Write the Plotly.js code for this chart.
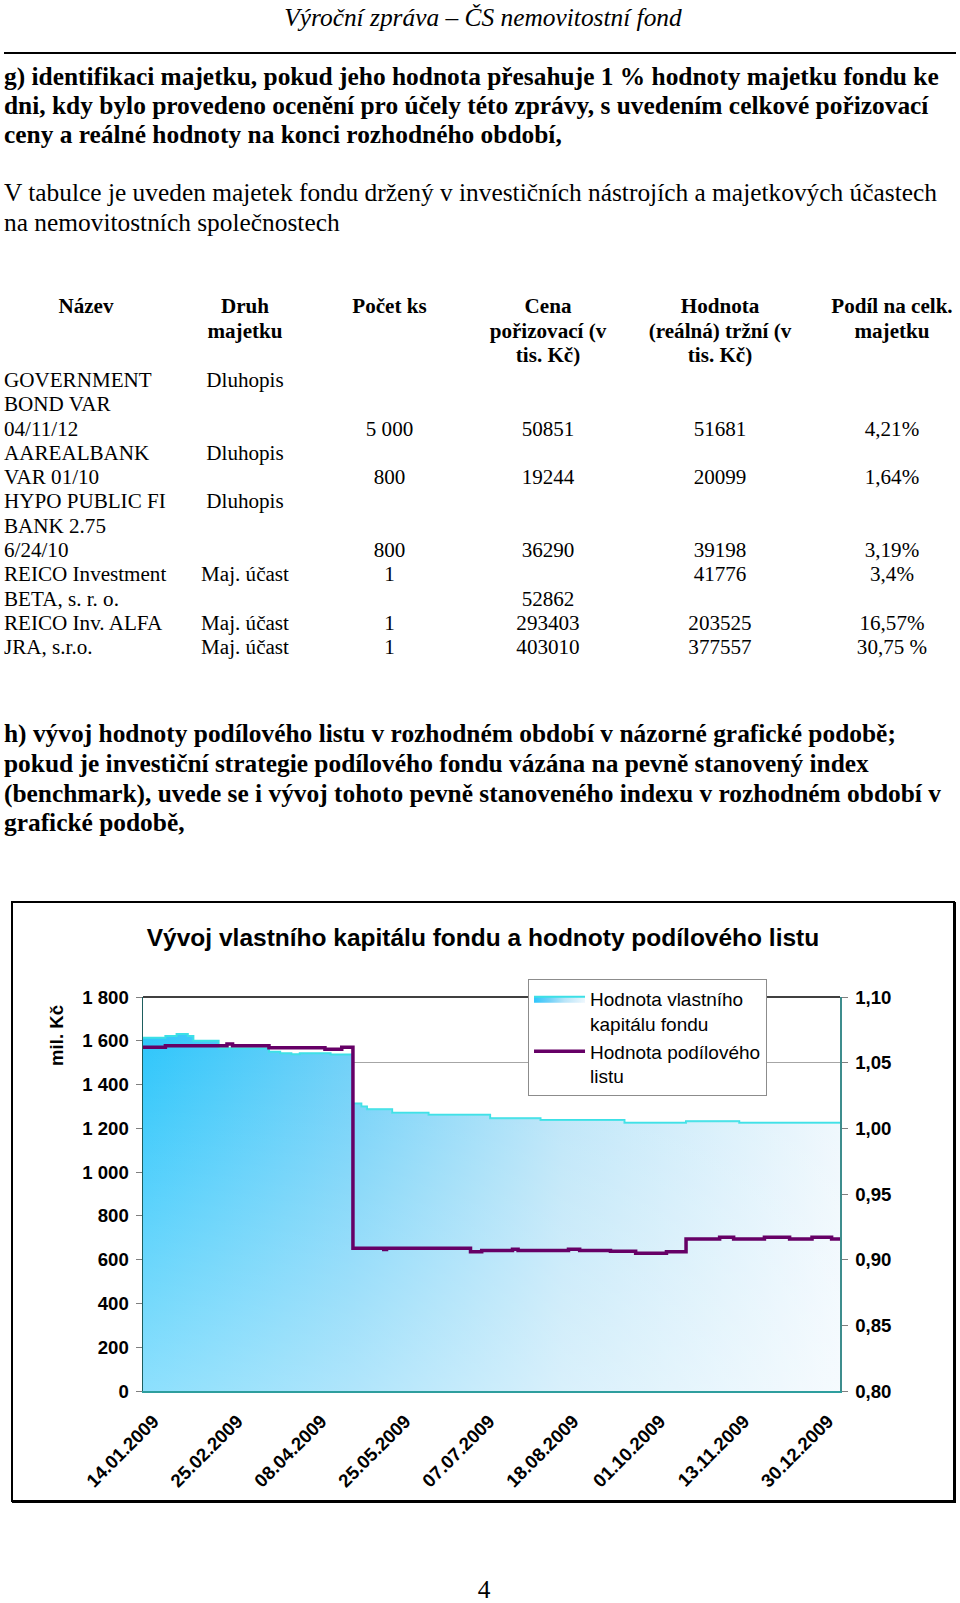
<!DOCTYPE html>
<html lang="cs">
<head>
<meta charset="utf-8">
<title>Výroční zpráva – ČS nemovitostní fond</title>
<script src="https://cdn.plot.ly/plotly-3.0.1.min.js"></script>
<style>
  html, body { margin: 0; padding: 0; background: #fff; }
  body {
    width: 960px; height: 1603px; position: relative; overflow: hidden;
    font-family: 'Liberation Serif', 'Times New Roman', serif; color: #000;
  }
  .ln { position: absolute; white-space: nowrap; line-height: 1; }
  .c { transform: translateX(-50%); }
  .txt { font-size: 25.4px; }
  .tbl { font-size: 21.1px; }
  .b { font-weight: bold; }
  .i { font-style: italic; }
  #rule { position: absolute; left: 4px; top: 52px; width: 952px; height: 1.5px; background: #000; }
  #chartBox {
    position: absolute; left: 11px; top: 901px; width: 940px; height: 597px;
    border: 2px solid #000; box-shadow: 1px 1px 0 #000;
  }
  #chart { width: 940px; height: 597px; }
  #pageNo { line-height: 0.8; }
</style>
</head>
<body>

<div class="ln txt i c" style="left:483px; top:4.5px">Výroční zpráva – ČS nemovitostní fond</div>
<div id="rule"></div>

<div class="ln txt b" style="left:4px; top:64px">g) identifikaci majetku, pokud jeho hodnota přesahuje 1 % hodnoty majetku fondu ke</div>
<div class="ln txt b" style="left:4px; top:93.2px">dni, kdy bylo provedeno ocenění pro účely této zprávy, s uvedením celkové pořizovací</div>
<div class="ln txt b" style="left:4px; top:122.4px">ceny a reálné hodnoty na konci rozhodného období,</div>

<div class="ln txt" style="left:4px; top:179.6px">V tabulce je uveden majetek fondu držený v investičních nástrojích a majetkových účastech</div>
<div class="ln txt" style="left:4px; top:209.7px">na nemovitostních společnostech</div>

<div id="table"></div>

<div class="ln txt b" style="left:4px; top:721.2px">h) vývoj hodnoty podílového listu v rozhodném období v názorné grafické podobě;</div>
<div class="ln txt b" style="left:4px; top:751.2px">pokud je investiční strategie podílového fondu vázána na pevně stanovený index</div>
<div class="ln txt b" style="left:4px; top:780.7px">(benchmark), uvede se i vývoj tohoto pevně stanoveného indexu v rozhodném období v</div>
<div class="ln txt b" style="left:4px; top:810.2px">grafické podobě,</div>

<div id="chartBox"><div id="chart"></div></div>

<div id="pageNo" class="ln txt c" style="left:484px; top:1578.5px">4</div>

<script>
// ---- table (one entry per printed line, empty string = blank cell) ----
const tableHead = [
  ['Název', 'Druh', 'Počet ks', 'Cena', 'Hodnota', 'Podíl na celk.'],
  ['', 'majetku', '', 'pořizovací (v', '(reálná) tržní (v', 'majetku'],
  ['', '', '', 'tis. Kč)', 'tis. Kč)', '']
];
const tableRows = [
  ['GOVERNMENT', 'Dluhopis', '', '', '', ''],
  ['BOND VAR', '', '', '', '', ''],
  ['04/11/12', '', '5 000', '50851', '51681', '4,21%'],
  ['AAREALBANK', 'Dluhopis', '', '', '', ''],
  ['VAR 01/10', '', '800', '19244', '20099', '1,64%'],
  ['HYPO PUBLIC FI', 'Dluhopis', '', '', '', ''],
  ['BANK 2.75', '', '', '', '', ''],
  ['6/24/10', '', '800', '36290', '39198', '3,19%'],
  ['REICO Investment', 'Maj. účast', '1', '', '41776', '3,4%'],
  ['BETA, s. r. o.', '', '', '52862', '', ''],
  ['REICO Inv. ALFA', 'Maj. účast', '1', '293403', '203525', '16,57%'],
  ['JRA, s.r.o.', 'Maj. účast', '1', '403010', '377557', '30,75 %']
];

// column centres (first column of the body is left aligned)
const colCenter = [86, 245, 389.5, 548, 720, 892];

function buildTable(){
  const host = document.getElementById('table');
  const put = (text, col, top, bold, leftAlign) => {
    if ( !text ) return;
    const d = document.createElement('div');
    d.className = 'ln tbl' + (bold ? ' b' : '') + (leftAlign ? '' : ' c');
    d.style.left = (leftAlign ? 4 : colCenter[col]) + 'px';
    d.style.top = top + 'px';
    d.textContent = text;
    host.appendChild(d);
  };
  tableHead.forEach((row, r) => {
    row.forEach((t, c) => put(t, c, 296.3 + r * 24.5, true, false));
  });
  tableRows.forEach((row, r) => {
    row.forEach((t, c) => put(t, c, 369.9 + r * 24.3, false, c === 0));
  });
}
buildTable();

// ---- chart data (business days of 2009) ----
const fundDates = [
  '2009-01-02', '2009-01-14', '2009-01-20', '2009-01-26', '2009-01-28', '2009-02-10',
  '2009-03-06', '2009-03-12', '2009-03-18', '2009-03-23', '2009-04-07', '2009-04-20',
  '2009-04-23', '2009-04-27', '2009-05-12', '2009-05-29', '2009-06-30', '2009-07-27',
  '2009-09-07', '2009-10-08', '2009-11-05', '2009-12-30'
];
const fundEquity = [ // mil. Kč
  1614, 1622, 1631, 1622, 1600, 1566,
  1550, 1543, 1538, 1543, 1537, 1314,
  1300, 1287, 1271, 1262, 1246, 1238,
  1226, 1232, 1226, 1226
];

const unitDates = [
  '2009-01-02', '2009-01-14', '2009-02-13', '2009-02-17', '2009-03-06', '2009-04-03',
  '2009-04-14', '2009-04-20', '2009-05-06', '2009-05-07', '2009-06-19', '2009-06-25',
  '2009-07-13', '2009-07-15', '2009-08-10', '2009-08-14', '2009-08-31', '2009-09-11',
  '2009-09-29', '2009-10-08', '2009-10-26', '2009-11-03', '2009-11-19', '2009-12-02',
  '2009-12-14', '2009-12-23', '2009-12-30'
];
const unitValue = [
  1.0617, 1.0629, 1.0642, 1.0629, 1.0614, 1.0602,
  1.0617, 0.9087, 0.9078, 0.9087, 0.9061, 0.9069,
  0.9079, 0.9069, 0.9079, 0.9069, 0.9064, 0.9049,
  0.9061, 0.9157, 0.9170, 0.9157, 0.9170, 0.9157,
  0.9170, 0.9157, 0.9157
];

const labelDates = [
  '2009-01-14', '2009-02-25', '2009-04-08', '2009-05-25', '2009-07-07',
  '2009-08-18', '2009-10-01', '2009-11-13', '2009-12-30'
];
// days without a valuation (Czech public holidays)
const holidays = [
  '2009-04-13', '2009-05-01', '2009-05-08', '2009-07-06', '2009-09-28',
  '2009-10-28', '2009-11-17', '2009-12-24', '2009-12-25'
];

const SANS = 'Liberation Sans, Arial, sans-serif';

const equityTrace = {
  x: fundDates,
  y: fundEquity,
  name: 'Hodnota vlastního<br>kapitálu fondu',
  type: 'scatter',
  mode: 'lines',
  line: { shape: 'hv', color: '#3ce0e6', width: 2 },
  fill: 'tozeroy',
  fillgradient: {
    type: 'horizontal',
    colorscale: [ [0, '#2ec6fb'], [0.3, '#6fd0f8'], [0.6, '#b9e4f8'], [1, '#eef7fd'] ]
  },
  yaxis: 'y',
  hoverinfo: 'skip',
};

// same series again, only a white veil that fades upwards (diagonal look of the fill)
const equityVeil = {
  x: fundDates,
  y: fundEquity,
  type: 'scatter',
  mode: 'lines',
  line: { shape: 'hv', width: 0 },
  fill: 'tozeroy',
  fillgradient: {
    type: 'vertical',
    start: 0,
    stop: Math.max(...fundEquity),
    colorscale: [ [0, 'rgba(255,255,255,0.45)'], [1, 'rgba(255,255,255,0)'] ]
  },
  showlegend: false,
  yaxis: 'y',
  hoverinfo: 'skip',
};

const unitTrace = {
  x: unitDates,
  y: unitValue,
  name: 'Hodnota podílového<br>listu',
  type: 'scatter',
  mode: 'lines',
  line: { shape: 'hv', color: '#660066', width: 3.5 },
  yaxis: 'y2',
  hoverinfo: 'skip',
};

const layout = {
  width: 940,
  height: 597,
  margin: { l: 130, r: 113, t: 94, b: 109 },
  paper_bgcolor: '#fff',
  plot_bgcolor: 'rgba(0,0,0,0)',
  separators: ', ',
  font: { family: SANS, size: 18.6, color: '#000' },
  title: {
    text: 'Vývoj vlastního kapitálu fondu a hodnoty podílového listu',
    font: { family: SANS, size: 24.5, weight: 'bold', color: '#000' },
    x: 0.5, xanchor: 'center',
    y: 0.943, yanchor: 'middle',
  },
  showlegend: true,
  legend: {
    x: 0.5524, y: 1.0457, xanchor: 'left', yanchor: 'top',
    bgcolor: '#fff', bordercolor: '#8c8c8c', borderwidth: 1,
    font: { family: SANS, size: 19, color: '#000' },
    itemwidth: 51,
    valign: 'top',
  },
  xaxis: {
    type: 'date',
    range: [ fundDates[0], fundDates[fundDates.length - 1] ],
    rangebreaks: [ { bounds: ['sat', 'mon'] }, { values: holidays } ],
    tickmode: 'array',
    tickvals: labelDates,
    tickformat: '%d.%m.%Y',
    tickangle: -45,
    tickfont: { weight: 'bold' },
    ticks: '',
    ticklabelshift: -12,
    ticklabelstandoff: 10,
    showgrid: false,
    zeroline: false,
    showline: true, linecolor: '#2e9e9e', linewidth: 2,
  },
  yaxis: {
    range: [0, 1800],
    dtick: 200,
    tickformat: ',d',
    ticks: 'outside', ticklen: 6, tickcolor: '#7f7f7f',
    tickfont: { weight: 'bold' },
    ticklabelstandoff: 3,
    showgrid: false,
    zeroline: false,
    showline: true, linecolor: '#1e5e5e', linewidth: 1.5,
  },
  yaxis2: {
    overlaying: 'y',
    side: 'right',
    range: [0.8, 1.1],
    dtick: 0.05,
    tickformat: '.2f',
    ticks: 'outside', ticklen: 6, tickcolor: '#7f7f7f',
    tickfont: { weight: 'bold' },
    ticklabelstandoff: 4,
    showgrid: true, gridcolor: '#a6a6a6', gridwidth: 1,
    zeroline: false,
    showline: true, linecolor: '#3d8d8d', linewidth: 1.5,
  },
  // black top edge of the plot area
  shapes: [
    { type: 'line', xref: 'paper', yref: 'paper', x0: 0, x1: 1, y0: 1, y1: 1,
      line: { color: '#000', width: 1.5 } }
  ],
  annotations: [
    { text: 'mil. Kč', xref: 'paper', yref: 'paper', x: -0.1234, y: 0.9036,
      xanchor: 'center', yanchor: 'middle',
      textangle: -90, showarrow: false,
      font: { family: SANS, size: 18.6, weight: 'bold', color: '#000' } }
  ],
};

Plotly.newPlot('chart', [ equityTrace, equityVeil, unitTrace ], layout, { displayModeBar: false, staticPlot: true });
</script>
</body>
</html>
